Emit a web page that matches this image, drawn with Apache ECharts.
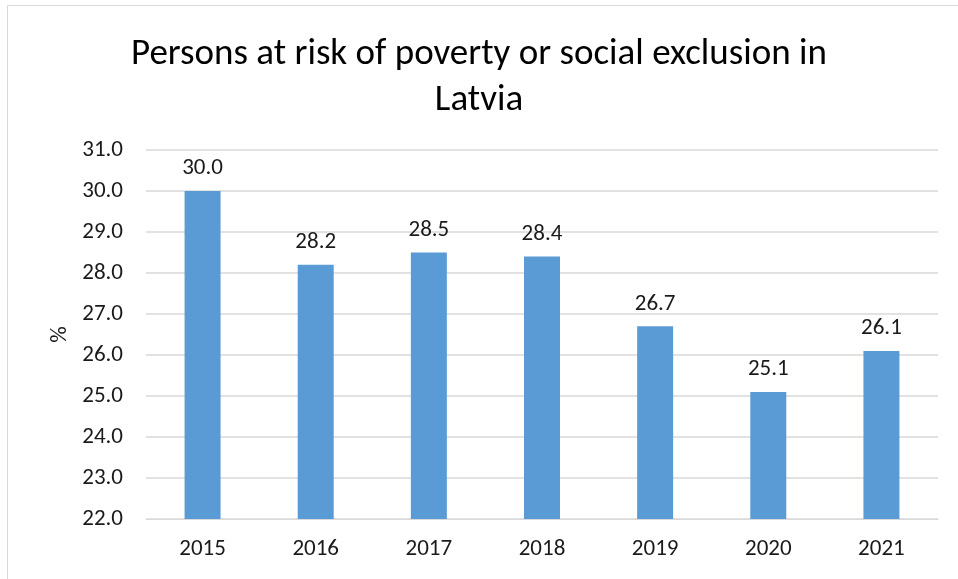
<!DOCTYPE html>
<html>
<head>
<meta charset="utf-8">
<script src="https://cdn.jsdelivr.net/npm/echarts@6/dist/echarts.min.js"></script>
<style>
  html, body { margin: 0; padding: 0; background: #fff; }
  #chart { width: 958px; height: 579px; }
</style>
</head>
<body>
<div id="chart"></div>
<script>
// data
const years = ['2015', '2016', '2017', '2018', '2019', '2020', '2021']
const riskShare = [30.0, 28.2, 28.5, 28.4, 26.7, 25.1, 26.1]

const textColor = '#1a1a1a'
const fontFamily = 'Calibri, Carlito, Lato, sans-serif'

const chart = echarts.init(document.getElementById('chart'))

const option = {
  backgroundColor: '#fff',
  animation: false,
  textStyle: { fontFamily: fontFamily },
  title: {
    text: 'Persons at risk of poverty or social exclusion in\nLatvia',
    left: 'center',
    top: 27,
    textStyle: {
      fontFamily: fontFamily,
      fontSize: 37,
      fontWeight: 'normal',
      color: '#000',
      lineHeight: 46,
    },
  },
  graphic: [
    {
      type: 'rect',
      shape: { x: 7.5, y: 5.5, width: 980, height: 600 },
      style: { fill: 'none', stroke: '#d9d9d9', lineWidth: 1 },
      silent: true,
    },
  ],
  grid: {
    left: 146,
    right: 20,
    top: 150,
    bottom: 60,
  },
  xAxis: {
    type: 'category',
    data: years,
    axisTick: { show: false },
    axisLine: { lineStyle: { color: '#d9d9d9', width: 1 } },
    axisLabel: { color: textColor, fontSize: 23, margin: 19 },
  },
  yAxis: {
    type: 'value',
    name: '%',
    nameLocation: 'middle',
    nameGap: 74,
    nameTextStyle: { color: textColor, fontSize: 23 },
    min: 22,
    max: 31,
    interval: 1,
    axisLine: { show: false },
    axisTick: { show: false },
    axisLabel: {
      color: textColor,
      fontSize: 23,
      margin: 23,
      formatter: v => v.toFixed(1),
    },
    splitLine: { lineStyle: { color: '#d9d9d9', width: 1.5 } },
  },
  series: [
    {
      type: 'bar',
      data: riskShare,
      barWidth: 36,
      itemStyle: { color: '#5b9bd5' },
      label: {
        show: true,
        position: 'top',
        distance: 11,
        color: textColor,
        fontSize: 23,
        formatter: p => p.value.toFixed(1),
      },
    },
  ],
}

chart.setOption(option)
</script>
</body>
</html>
